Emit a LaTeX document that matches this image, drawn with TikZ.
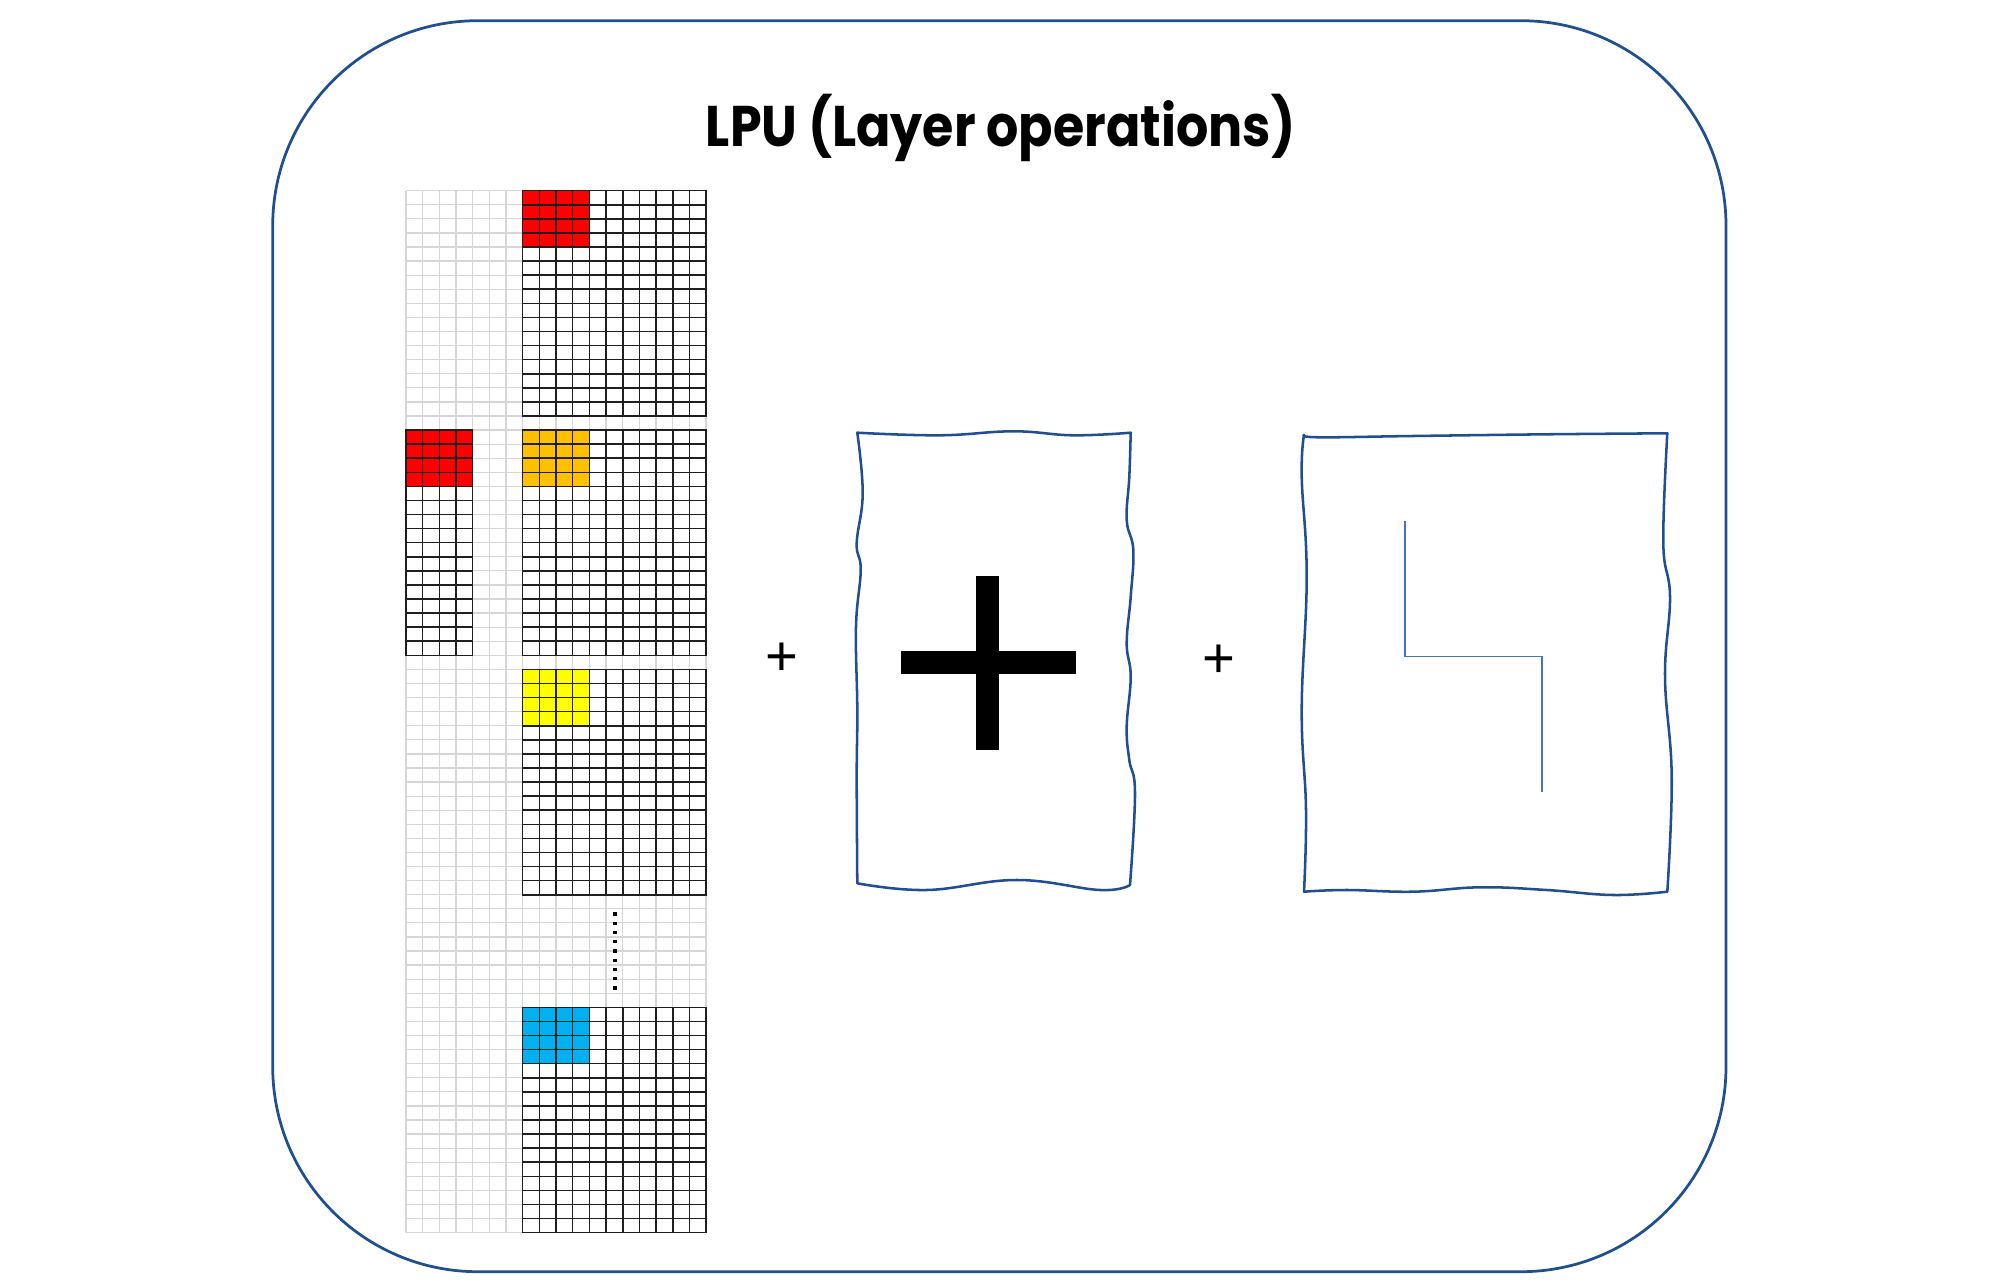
\documentclass[tikz,border=0pt]{standalone}
\usepackage{fontspec}
\usepackage{graphicx}
\newfontfamily\titlefont{Poppins}
\newfontfamily\plusfont{Liberation Sans}
\definecolor{frameblue}{RGB}{31,78,145}
\definecolor{lineblue}{RGB}{68,114,196}
\definecolor{lightgrid}{RGB}{214,214,214}
\definecolor{cred}{RGB}{255,0,0}
\definecolor{corange}{RGB}{255,192,0}
\definecolor{cyellow}{RGB}{255,255,0}
\definecolor{cblue}{RGB}{0,176,240}
\def\gx{406}
\def\gy{190.7}
\def\cw{16.67}
\def\ch{14.08}
\tikzset{
  lightline/.style={draw=lightgrid, line width=0.35pt},
  darkline/.style={draw=black!88, line width=0.45pt, line cap=rect},
  wavybox/.style={draw=frameblue, line width=0.72pt, line join=round},
  frame/.style={draw=frameblue, line width=0.78pt, rounded corners=2.05cm},
  plussign/.style={inner sep=0pt, font=\plusfont\fontsize{16}{18}\selectfont},
}
\newcommand\darkblock[4]{%
  \fill[#4] (\gx+#1*\cw,\gy+#2*\ch) rectangle (\gx+#1*\cw+4*\cw,\gy+#2*\ch+4*\ch);
  \foreach \i in {0,...,#3} \draw[darkline] (\gx+#1*\cw+\i*\cw,\gy+#2*\ch) -- ++(0,16*\ch);
  \foreach \j in {0,...,16} \draw[darkline] (\gx+#1*\cw,\gy+#2*\ch+\j*\ch) -- ++(#3*\cw,0);
}
\begin{document}
\begin{tikzpicture}[x=0.01cm,y=-0.01cm]
\useasboundingbox (0,0) rectangle (2000,1288);
% outer frame
\draw[frame] (272.7,20.7) rectangle (1726,1271.7);
% title
\node[inner sep=0pt, anchor=base] (title) at (1000.5,146.7)
  {\resizebox{5.89cm}{\height}{\titlefont\bfseries\fontsize{16.3}{18}\selectfont LPU (Layer operations)}};
% light background grid
\foreach \i in {0,...,18} \draw[lightline] (\gx+\i*\cw,\gy) -- (\gx+\i*\cw,\gy+74*\ch);
\foreach \j in {0,...,74} \draw[lightline] (\gx,\gy+\j*\ch) -- (\gx+18*\cw,\gy+\j*\ch);
% dark blocks
\darkblock{7}{0}{11}{cred}
\darkblock{0}{17}{4}{cred}
\darkblock{7}{17}{11}{corange}
\darkblock{7}{34}{11}{cyellow}
\darkblock{7}{58}{11}{cblue}
% vertical dots
\foreach \k in {0,...,8} \fill (613.3,912.3+\k*9.25) rectangle ++(3.4,3.4);
% plus signs
\node[plussign] (plusA) at (781.7,659.3) {+};
\node[plussign] (plusB) at (1219,661.7) {+};
% first wavy box
\draw[wavybox]
  plot[smooth,tension=0.7] coordinates {(857.3,432.7) (940,435.3) (1013.3,431.3) (1073.3,435.3) (1130.7,432.7)}
  -- plot[smooth,tension=0.7] coordinates {(1130.7,432.7) (1129.3,476.7) (1126.7,520) (1133.3,550) (1130.7,596.7) (1126.7,643.3) (1130.7,676.7) (1126.7,726.7) (1129.3,760) (1135,793.3) (1130,885)}
  -- plot[smooth,tension=0.7] coordinates {(1130,885) (1100,890) (1016.7,880) (926.7,890) (857.3,883.3)}
  -- plot[smooth,tension=0.7] coordinates {(857.3,883.3) (856.7,776.7) (857.3,710) (856,626.7) (860.7,570) (856.7,543.3) (862.7,493.3) (857.3,432.7)}
  -- cycle;
% big plus
\fill (976,575.7) rectangle (999.3,750);
\fill (900.7,650.7) rectangle (1076,674.3);
% second wavy box
\draw[wavybox]
  plot[smooth,tension=0.7] coordinates {(1304,435) (1320,437.3) (1413.3,436) (1546.7,434.3) (1667.3,433.3)}
  -- plot[smooth,tension=0.7] coordinates {(1667.3,433.3) (1663.3,543.3) (1670,596.7) (1665,676.7) (1671.7,776.7) (1667.3,891.7)}
  -- plot[smooth,tension=0.7] coordinates {(1667.3,891.7) (1613.3,895) (1546.7,890) (1480,887.3) (1413.3,891.7) (1346.7,890) (1304,891.7)}
  -- plot[smooth,tension=0.7] coordinates {(1304,891.7) (1306,810) (1301.7,710) (1306.7,576.7) (1301.7,476.7) (1304,435)}
  -- cycle;
% path inside second box
\coordinate (pA) at (1405,520.7);
\coordinate (pB) at (1405,656.7);
\coordinate (pC) at (1541.7,656.7);
\coordinate (pD) at (1541.7,791.7);
\draw[draw=lineblue, line width=0.45pt] (pA) -- (pB) -- (pC) -- (pD);
\end{tikzpicture}
\end{document}
